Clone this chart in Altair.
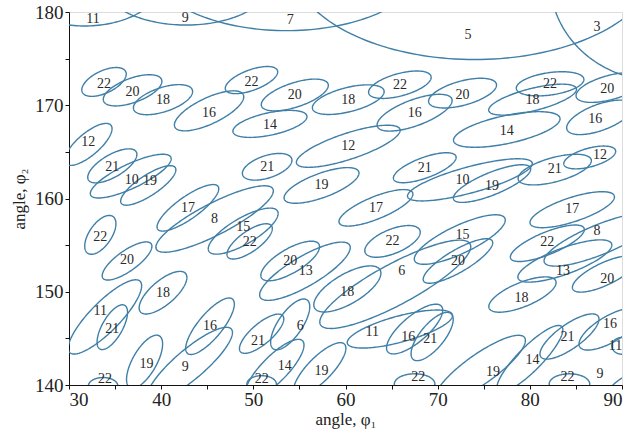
import numpy as np
import pandas as pd
import altair as alt

# ellipse label, centre (phi1, phi2), semi-axes (deg), tilt (deg)
labels = ["11", "9", "7", "5", "3",
          "22", "20", "18", "16", "12", "22", "20", "18", "22", "16", "14", "20", "18", "22", "20", "16", "14",
          "21", "10", "19", "17", "8", "22", "20", "21", "12", "19", "17", "15", "22", "22", "20", "13", "18", "6",
          "21", "10", "19", "21", "12", "17", "8", "15", "20", "22", "13", "20", "18",
          "16", "11", "21", "14", "19", "22", "9", "22", "21", "16", "11", "19", "14", "22", "16", "9", "19", "22",
          "11", "21", "18", "6", "21"]
cx = [31.7, 42.7, 53.6, 74.0, 94.1,
      33.8, 36.9, 40.2, 45.2, 32.1, 49.8, 54.5, 60.3, 65.9, 67.5, 51.8, 72.7, 80.3, 82.2, 88.7, 87.6, 77.5,
      34.7, 36.7, 38.6, 42.9, 45.8, 33.4, 36.3, 51.5, 60.3, 57.4, 63.3, 48.9, 49.6, 65.1, 54.0, 55.6, 60.2, 65.4,
      68.6, 73.5, 75.9, 82.7, 86.5, 84.6, 87.6, 72.4, 72.2, 81.9, 83.8, 88.1, 79.2,
      88.7, 90.0, 84.3, 80.0, 74.6, 84.3, 90.3, 67.5, 69.4, 67.5, 65.9, 57.2, 52.3, 50.9, 45.3, 43.1, 38.2, 33.7,
      33.9, 34.7, 40.2, 54.0, 50.9]
cy = [183.4, 183.4, 185.6, 185.6, 183.4,
      172.5, 171.6, 170.6, 169.4, 165.8, 172.7, 171.1, 170.6, 172.2, 169.2, 168.0, 171.3, 170.6, 172.3, 171.9, 168.7, 167.4,
      163.5, 162.4, 161.4, 159.0, 157.8, 156.1, 153.3, 163.4, 165.6, 161.4, 159.0, 156.5, 155.4, 155.4, 153.3, 152.2, 150.3, 150.8,
      163.3, 162.0, 161.6, 163.1, 164.4, 158.8, 155.6, 155.6, 153.3, 155.2, 153.3, 151.9, 149.7,
      146.0, 144.2, 145.2, 142.8, 141.7, 140.1, 139.0, 140.1, 145.2, 146.0, 146.0, 141.7, 141.7, 140.1, 146.3, 142.2, 142.5, 139.9,
      147.3, 146.2, 149.9, 146.5, 145.5]
ra = [8.4, 9.3, 15.2, 20.0, 11.9,
      2.6, 3.35, 3.35, 4.1, 3.2, 3.0, 3.8, 4.0, 3.5, 4.3, 4.1, 3.8, 4.9, 3.7, 3.8, 3.8, 5.9,
      3.0, 4.8, 3.5, 4.0, 7.1, 2.4, 3.2, 2.8, 5.9, 4.3, 4.3, 4.3, 2.9, 3.2, 3.6, 5.6, 4.1, 9.2,
      3.6, 7.0, 4.5, 4.1, 2.9, 4.8, 6.5, 5.4, 4.3, 4.3, 5.4, 3.8, 3.9,
      3.8, 1.1, 3.8, 4.9, 5.9, 2.2, 3.2, 2.2, 3.2, 3.8, 5.9, 3.8, 4.3, 1.6, 3.8, 5.9, 3.2, 1.6,
      5.4, 2.7, 3.2, 3.2, 3.0]
rb = [4.9, 4.8, 7.6, 10.7, 10.8,
      1.2, 1.3, 1.3, 1.4, 1.2, 1.1, 1.3, 1.3, 1.2, 1.4, 1.2, 1.3, 1.2, 1.2, 1.3, 1.4, 1.5,
      1.2, 1.3, 1.1, 1.2, 1.7, 1.2, 1.1, 1.2, 1.4, 1.3, 1.2, 1.4, 1.1, 1.3, 1.3, 1.6, 1.6, 2.2,
      1.1, 1.4, 1.2, 1.3, 1.0, 1.3, 1.6, 1.5, 1.2, 1.2, 1.4, 1.2, 1.3,
      1.4, 0.9, 1.3, 1.3, 1.6, 1.1, 1.6, 1.1, 1.3, 1.4, 1.4, 1.3, 1.4, 0.9, 1.3, 1.6, 1.3, 0.9,
      1.6, 1.1, 1.3, 1.3, 1.1]
tilt = [0, 0, 0, 0, 0,
        25, 20, 18, 25, 40, 20, 18, 14, 15, 20, 12, 15, 14, 8, 15, 20, 12,
        30, 25, 33, 35, 27, 55, 35, 18, 18, 20, 22, 30, 35, 22, 30, 30, 30, 28,
        20, 15, 22, 15, 15, 18, 22, 25, 30, 22, 20, 25, 22,
        30, 0, 35, 45, 35, 0, 40, 0, 50, 40, 15, 45, 45, 0, 50, 40, 60, 0,
        45, 60, 40, 55, 40]
# label positions
lx = [32.6, 42.6, 54.0, 73.3, 87.3,
      33.8, 36.9, 40.2, 45.2, 32.1, 49.8, 54.5, 60.3, 65.9, 67.5, 51.8, 72.7, 80.3, 82.2, 88.4, 87.1, 77.5,
      34.7, 36.8, 38.8, 42.9, 45.8, 33.4, 36.3, 51.5, 60.3, 57.4, 63.3, 48.9, 49.6, 65.1, 54.0, 55.7, 60.2, 66.1,
      68.6, 72.7, 75.9, 82.7, 87.6, 84.6, 87.3, 72.7, 72.2, 81.9, 83.6, 88.4, 79.1,
      88.7, 89.3, 84.1, 80.3, 76.0, 84.1, 87.6, 67.9, 69.2, 66.8, 62.9, 57.4, 53.4, 50.9, 45.3, 42.6, 38.4, 33.9,
      33.4, 34.7, 40.2, 55.1, 50.5]
ly = [179.25, 179.4, 179.1, 177.5, 178.4,
      172.3, 171.4, 170.6, 169.2, 166.1, 172.5, 171.1, 170.6, 172.2, 169.2, 167.9, 171.1, 170.6, 172.3, 171.7, 168.5, 167.2,
      163.4, 162.0, 161.9, 159.0, 157.8, 155.9, 153.4, 163.4, 165.6, 161.4, 159.0, 156.9, 155.3, 155.4, 153.3, 152.2, 150.0, 152.2,
      163.3, 162.0, 161.3, 163.2, 164.7, 158.9, 156.5, 156.1, 153.3, 155.3, 152.2, 151.4, 149.3,
      146.5, 144.2, 145.2, 142.7, 141.4, 140.9, 141.2, 140.9, 144.9, 145.2, 145.7, 141.5, 142.0, 140.6, 146.3, 141.9, 142.3, 140.6,
      147.9, 146.0, 149.9, 146.3, 144.7]

rows = []
t = np.linspace(0, 2 * np.pi, 181)
for i in range(len(labels)):
    th = np.deg2rad(tilt[i])
    xs = cx[i] + ra[i] * np.cos(t) * np.cos(th) - rb[i] * np.sin(t) * np.sin(th)
    ys = cy[i] + ra[i] * np.cos(t) * np.sin(th) + rb[i] * np.sin(t) * np.cos(th)
    for k in range(len(t)):
        rows.append({"id": i, "k": k, "x": float(xs[k]), "y": float(ys[k])})
outline = pd.DataFrame(rows)
text_df = pd.DataFrame({"lab": labels, "x": lx, "y": ly})

serif = "Liberation Serif"
xscale = alt.Scale(domain=[30, 90], nice=False, zero=False)
yscale = alt.Scale(domain=[140, 180], nice=False, zero=False)

xaxis = alt.Axis(title="angle, φ₁", values=list(range(30, 91, 5)),
                 labelExpr="datum.value % 10 == 0 ? datum.label : ''",
                 grid=False, domainColor="#111", tickColor="#111", tickSize=4,
                 labelFont=serif, labelFontSize=19, labelColor="#222", labelPadding=1,
                 titleFont=serif, titleFontSize=17, titleFontWeight="normal", titleColor="#222",
                 titlePadding=2)
yaxis = alt.Axis(title="angle, φ₂", values=list(range(140, 181, 5)),
                 labelExpr="datum.value % 10 == 0 ? datum.label : ''",
                 grid=False, domainColor="#111", tickColor="#111", tickSize=4,
                 labelFont=serif, labelFontSize=19, labelColor="#222", labelPadding=2,
                 titleFont=serif, titleFontSize=17, titleFontWeight="normal", titleColor="#222",
                 titlePadding=6)

lines = alt.Chart(outline).mark_line(clip=True, color="#3f7fa8", strokeWidth=1.4).encode(
    x=alt.X("x:Q", scale=xscale, axis=xaxis),
    y=alt.Y("y:Q", scale=yscale, axis=yaxis),
    detail="id:N",
    order="k:Q",
)
texts = alt.Chart(text_df).mark_text(font=serif, fontSize=14, color="#2a2a2a", clip=True).encode(
    x=alt.X("x:Q", scale=xscale),
    y=alt.Y("y:Q", scale=yscale),
    text="lab:N",
)

chart = alt.layer(lines, texts).properties(
    width=553, height=373,
    autosize=alt.AutoSizeParams(type="none"),
    padding={"left": 69, "top": 12, "right": 21, "bottom": 51},
).configure_view(stroke="#a85a5a", strokeWidth=1.2).configure(background="white")

chart.save("out.html", embed_options={"renderer": "svg", "actions": False})
